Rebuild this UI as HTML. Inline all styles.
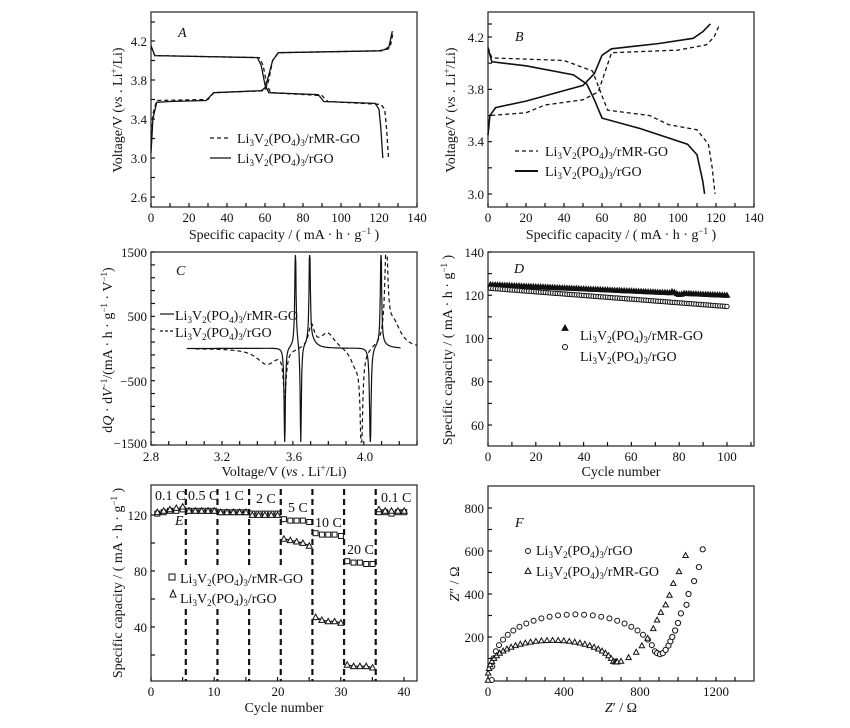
<!DOCTYPE html>
<html><head><meta charset="utf-8"><style>
body{margin:0;background:#fff}
svg{display:block;font-family:"Liberation Serif",serif;}
text{fill:#111}
.t{font-size:13px}
.l{font-size:14px}
</style></head><body>
<svg id="s" width="850" height="728" viewBox="0 0 850 728" xmlns="http://www.w3.org/2000/svg">
<g fill="none" stroke="#222" stroke-width="1.2">
<rect x="151" y="12" width="266" height="195"/>
<rect x="488" y="12" width="266" height="195"/>
<rect x="151" y="252" width="266" height="193"/>
<rect x="488" y="252" width="266" height="194"/>
<rect x="151" y="485" width="266" height="196"/>
<rect x="488" y="486" width="266" height="195"/>
</g>
<g id="g"></g>
<rect x="166" y="565" width="136" height="42" fill="#fff"/>
<!-- A -->
<g class="t" text-anchor="end">
<text x="147" y="46">4.2</text><text x="147" y="85">3.8</text><text x="147" y="124">3.4</text><text x="147" y="163">3.0</text><text x="147" y="202">2.6</text>
</g>
<g class="t" text-anchor="middle">
<text x="151" y="222">0</text><text x="189" y="222">20</text><text x="227" y="222">40</text><text x="265" y="222">60</text><text x="303" y="222">80</text><text x="341" y="222">100</text><text x="379" y="222">120</text><text x="417" y="222">140</text>
</g>
<text class="l" x="284" y="239" text-anchor="middle">Specific capacity / ( mA · h · g<tspan dy="-5" font-size="9">−1</tspan><tspan dy="5"> )</tspan></text>
<text class="l" transform="translate(122,110) rotate(-90)" text-anchor="middle">Voltage/V (<tspan font-style="italic">vs</tspan> . Li<tspan dy="-5" font-size="9">+</tspan><tspan dy="5">/Li)</tspan></text>
<text x="178" y="37" class="l" font-style="italic">A</text>
<text class="l" x="237" y="143">Li<tspan font-size="9" dy="3">3</tspan><tspan dy="-3">V</tspan><tspan font-size="9" dy="3">2</tspan><tspan dy="-3">(PO</tspan><tspan font-size="9" dy="3">4</tspan><tspan dy="-3">)</tspan><tspan font-size="9" dy="3">3</tspan><tspan dy="-3">/rMR-GO</tspan></text>
<text class="l" x="237" y="163">Li<tspan font-size="9" dy="3">3</tspan><tspan dy="-3">V</tspan><tspan font-size="9" dy="3">2</tspan><tspan dy="-3">(PO</tspan><tspan font-size="9" dy="3">4</tspan><tspan dy="-3">)</tspan><tspan font-size="9" dy="3">3</tspan><tspan dy="-3">/rGO</tspan></text>
<!-- B -->
<g class="t" text-anchor="end">
<text x="484" y="42">4.2</text><text x="484" y="94">3.8</text><text x="484" y="146">3.4</text><text x="484" y="199">3.0</text>
</g>
<g class="t" text-anchor="middle">
<text x="488" y="222">0</text><text x="526" y="222">20</text><text x="564" y="222">40</text><text x="602" y="222">60</text><text x="640" y="222">80</text><text x="678" y="222">100</text><text x="716" y="222">120</text><text x="754" y="222">140</text>
</g>
<text class="l" x="621" y="239" text-anchor="middle">Specific capacity / ( mA · h · g<tspan dy="-5" font-size="9">−1</tspan><tspan dy="5"> )</tspan></text>
<text class="l" transform="translate(455,110) rotate(-90)" text-anchor="middle">Voltage/V (<tspan font-style="italic">vs</tspan> . Li<tspan dy="-5" font-size="9">+</tspan><tspan dy="5">/Li)</tspan></text>
<text x="515" y="41" class="l" font-style="italic">B</text>
<text class="l" x="545" y="156">Li<tspan font-size="9" dy="3">3</tspan><tspan dy="-3">V</tspan><tspan font-size="9" dy="3">2</tspan><tspan dy="-3">(PO</tspan><tspan font-size="9" dy="3">4</tspan><tspan dy="-3">)</tspan><tspan font-size="9" dy="3">3</tspan><tspan dy="-3">/rMR-GO</tspan></text>
<text class="l" x="545" y="176">Li<tspan font-size="9" dy="3">3</tspan><tspan dy="-3">V</tspan><tspan font-size="9" dy="3">2</tspan><tspan dy="-3">(PO</tspan><tspan font-size="9" dy="3">4</tspan><tspan dy="-3">)</tspan><tspan font-size="9" dy="3">3</tspan><tspan dy="-3">/rGO</tspan></text>
<!-- C -->
<g class="t" text-anchor="end">
<text x="147" y="257">1500</text><text x="147" y="321">500</text><text x="147" y="386">−500</text><text x="147" y="448">−1500</text>
</g>
<g class="t" text-anchor="middle">
<text x="151" y="461">2.8</text><text x="222" y="461">3.2</text><text x="294" y="461">3.6</text><text x="365" y="461">4.0</text>
</g>
<text class="l" x="284" y="476" text-anchor="middle">Voltage/V (<tspan font-style="italic">vs</tspan> . Li<tspan dy="-5" font-size="9">+</tspan><tspan dy="5">/Li)</tspan></text>
<text class="l" transform="translate(112,350) rotate(-90)" text-anchor="middle">d<tspan font-style="italic">Q</tspan> · d<tspan font-style="italic">V</tspan><tspan dy="-5" font-size="9">−1</tspan><tspan dy="5">/(mA · h · g</tspan><tspan dy="-5" font-size="9">−1</tspan><tspan dy="5"> · V</tspan><tspan dy="-5" font-size="9">−1</tspan><tspan dy="5">)</tspan></text>
<text x="176" y="275" class="l" font-style="italic">C</text>
<text class="l" x="175" y="320">Li<tspan font-size="9" dy="3">3</tspan><tspan dy="-3">V</tspan><tspan font-size="9" dy="3">2</tspan><tspan dy="-3">(PO</tspan><tspan font-size="9" dy="3">4</tspan><tspan dy="-3">)</tspan><tspan font-size="9" dy="3">3</tspan><tspan dy="-3">/rMR-GO</tspan></text>
<text class="l" x="175" y="337">Li<tspan font-size="9" dy="3">3</tspan><tspan dy="-3">V</tspan><tspan font-size="9" dy="3">2</tspan><tspan dy="-3">(PO</tspan><tspan font-size="9" dy="3">4</tspan><tspan dy="-3">)</tspan><tspan font-size="9" dy="3">3</tspan><tspan dy="-3">/rGO</tspan></text>
<!-- D -->
<g class="t" text-anchor="end">
<text x="484" y="257">140</text><text x="484" y="300">120</text><text x="484" y="343">100</text><text x="484" y="386">80</text><text x="484" y="430">60</text>
</g>
<g class="t" text-anchor="middle">
<text x="488" y="461">0</text><text x="536" y="461">20</text><text x="584" y="461">40</text><text x="631" y="461">60</text><text x="679" y="461">80</text><text x="727" y="461">100</text>
</g>
<text class="l" x="621" y="476" text-anchor="middle">Cycle number</text>
<text class="l" transform="translate(452,350) rotate(-90)" text-anchor="middle">Specific capacity / ( mA · h · g<tspan dy="-5" font-size="9">−1</tspan><tspan dy="5"> )</tspan></text>
<text x="514" y="273" class="l" font-style="italic">D</text>
<text class="l" x="580" y="340">Li<tspan font-size="9" dy="3">3</tspan><tspan dy="-3">V</tspan><tspan font-size="9" dy="3">2</tspan><tspan dy="-3">(PO</tspan><tspan font-size="9" dy="3">4</tspan><tspan dy="-3">)</tspan><tspan font-size="9" dy="3">3</tspan><tspan dy="-3">/rMR-GO</tspan></text>
<text class="l" x="580" y="361">Li<tspan font-size="9" dy="3">3</tspan><tspan dy="-3">V</tspan><tspan font-size="9" dy="3">2</tspan><tspan dy="-3">(PO</tspan><tspan font-size="9" dy="3">4</tspan><tspan dy="-3">)</tspan><tspan font-size="9" dy="3">3</tspan><tspan dy="-3">/rGO</tspan></text>
<!-- E -->
<g class="t" text-anchor="end">
<text x="147" y="520">120</text><text x="147" y="576">80</text><text x="147" y="632">40</text>
</g>
<g class="t" text-anchor="middle">
<text x="151" y="696">0</text><text x="214" y="696">10</text><text x="278" y="696">20</text><text x="341" y="696">30</text><text x="404" y="696">40</text>
</g>
<text class="l" x="284" y="712" text-anchor="middle">Cycle number</text>
<text class="l" transform="translate(122,583) rotate(-90)" text-anchor="middle">Specific capacity / ( mA · h · g<tspan dy="-5" font-size="9">−1</tspan><tspan dy="5"> )</tspan></text>
<text x="175" y="525" class="l" font-style="italic">E</text>
<g class="l">
<text x="155" y="500">0.1 C</text><text x="188" y="500">0.5 C</text><text x="224" y="500">1 C</text><text x="256" y="503">2 C</text><text x="288" y="512">5 C</text><text x="315" y="527">10 C</text><text x="347" y="554">20 C</text><text x="381" y="502">0.1 C</text>
</g>
<rect x="169" y="574" width="6" height="6" fill="#fff" stroke="#111"/>
<polygon points="173,590 170,597 176,597" fill="#fff" stroke="#111"/>
<text class="l" x="180" y="583">Li<tspan font-size="9" dy="3">3</tspan><tspan dy="-3">V</tspan><tspan font-size="9" dy="3">2</tspan><tspan dy="-3">(PO</tspan><tspan font-size="9" dy="3">4</tspan><tspan dy="-3">)</tspan><tspan font-size="9" dy="3">3</tspan><tspan dy="-3">/rMR-GO</tspan></text>
<text class="l" x="180" y="603">Li<tspan font-size="9" dy="3">3</tspan><tspan dy="-3">V</tspan><tspan font-size="9" dy="3">2</tspan><tspan dy="-3">(PO</tspan><tspan font-size="9" dy="3">4</tspan><tspan dy="-3">)</tspan><tspan font-size="9" dy="3">3</tspan><tspan dy="-3">/rGO</tspan></text>
<!-- F -->
<g class="t" text-anchor="end">
<text x="484" y="513">800</text><text x="484" y="556">600</text><text x="484" y="599">400</text><text x="484" y="642">200</text>
</g>
<g class="t" text-anchor="middle">
<text x="488" y="696">0</text><text x="564" y="696">400</text><text x="640" y="696">800</text><text x="716" y="696">1200</text>
</g>
<text class="l" x="621" y="712" text-anchor="middle"><tspan font-style="italic">Z</tspan>′ / Ω</text>
<text class="l" transform="translate(459,584) rotate(-90)" text-anchor="middle"><tspan font-style="italic">Z</tspan>″ / Ω</text>
<text x="515" y="527" class="l" font-style="italic">F</text>
<text class="l" x="536" y="555">Li<tspan font-size="9" dy="3">3</tspan><tspan dy="-3">V</tspan><tspan font-size="9" dy="3">2</tspan><tspan dy="-3">(PO</tspan><tspan font-size="9" dy="3">4</tspan><tspan dy="-3">)</tspan><tspan font-size="9" dy="3">3</tspan><tspan dy="-3">/rGO</tspan></text>
<text class="l" x="536" y="576">Li<tspan font-size="9" dy="3">3</tspan><tspan dy="-3">V</tspan><tspan font-size="9" dy="3">2</tspan><tspan dy="-3">(PO</tspan><tspan font-size="9" dy="3">4</tspan><tspan dy="-3">)</tspan><tspan font-size="9" dy="3">3</tspan><tspan dy="-3">/rMR-GO</tspan></text>
</svg>
<script>
var g=document.getElementById('g'),h='';
function pl(pts,fx,fy,dash,w){h+='<polyline fill="none" stroke="#111" stroke-width="'+(w||1.3)+'" '+(dash?'stroke-dasharray="4,3" ':'')+'points="'+pts.map(function(p){return fx(p[0]).toFixed(1)+','+fy(p[1]).toFixed(1)}).join(' ')+'"/>';}
function ln(x1,y1,x2,y2,d,w){h+='<line x1="'+x1+'" y1="'+y1+'" x2="'+x2+'" y2="'+y2+'" stroke="#111" stroke-width="'+(w||1.2)+'"'+(d?' stroke-dasharray="'+d+'"':'')+'/>';}
function sq(x,y,s){h+='<rect x="'+(x-s)+'" y="'+(y-s)+'" width="'+2*s+'" height="'+2*s+'" fill="#fff" stroke="#111" stroke-width="1"/>';}
function tri(x,y,s,f){x=+x;y=+y;h+='<polygon points="'+x.toFixed(1)+','+(y-s).toFixed(1)+' '+(x-s).toFixed(1)+','+(y+s*0.8).toFixed(1)+' '+(x+s).toFixed(1)+','+(y+s*0.8).toFixed(1)+'" fill="'+(f?'#111':'#fff')+'" stroke="#111" stroke-width="1"/>';}
function ci(x,y,r){h+='<circle cx="'+(+x).toFixed(1)+'" cy="'+(+y).toFixed(1)+'" r="'+r+'" fill="#fff" stroke="#111" stroke-width="1"/>';}
function ticks(x0,x1,y0,y1,xs,ys){xs.forEach(function(x){ln(x,y1,x,y1-4)});ys.forEach(function(y){ln(x0,y,x0+4,y)});}
var r=function(a,b,n){var o=[];for(var i=0;i<=n;i++)o.push(a+(b-a)*i/n);return o;};
ticks(151,417,12,207,r(151,417,14),r(41,197,8).concat([22]));
ticks(488,754,12,207,r(488,754,14),r(37,194,6).concat([24]));
ticks(151,417,252,445,r(151,417,15),r(252,445,15));
ticks(488,754,252,446,r(488,727,10).concat([751]),r(252,425,8));
ticks(151,417,485,681,r(151,404,8),r(515,655,5));
ticks(488,754,486,681,r(488,716,12).concat([735]),r(508,680,8));
var AX=function(c){return 151+c*1.9},AY=function(v){return 41+(4.2-v)*97.5};
pl([[0,3.05],[1,3.4],[3,3.57],[10,3.58],[29,3.59],[31,3.63],[33,3.67],[58,3.69],[60,3.72],[62,3.85],[64,4.0],[67,4.08],[120,4.1],[125,4.12],[127,4.3]],AX,AY,0);
pl([[0,4.15],[2,4.05],[56,4.03],[58,3.95],[60,3.75],[62,3.67],[88,3.65],[91,3.58],[118,3.56],[120,3.5],[121,3.3],[122,3.0]],AX,AY,0);
pl([[0,3.1],[1,3.45],[3,3.59],[30,3.6],[33,3.67],[60,3.69],[62,3.8],[64,4.0],[67,4.08],[122,4.1],[126,4.15],[127.5,4.3]],AX,AY,1);
pl([[0,4.15],[2,4.05],[57,4.03],[59,3.95],[61,3.75],[63,3.67],[90,3.64],[93,3.58],[121,3.55],[123,3.5],[124,3.3],[125,3.0]],AX,AY,1);
ln(210,138,231,138,'4,3',1.3);ln(210,158,231,158,'',1.3);
var BX=function(c){return 488+c*1.9},BY=function(v){return 37+(4.2-v)*130.75};
pl([[0,3.45],[1,3.6],[4,3.66],[20,3.71],[40,3.79],[50,3.83],[56,3.92],[60,4.06],[65,4.11],[90,4.15],[108,4.19],[113,4.24],[117,4.3]],BX,BY,0,1.6);
pl([[0,4.12],[2,4.01],[20,3.98],[45,3.91],[52,3.84],[56,3.72],[60,3.58],[80,3.5],[105,3.38],[110,3.3],[113,3.1],[114,3.0]],BX,BY,0,1.6);
pl([[0,3.45],[1,3.6],[20,3.62],[30,3.68],[50,3.72],[58,3.78],[62,3.95],[65,4.08],[100,4.1],[115,4.14],[119,4.2],[122,4.3]],BX,BY,1);
pl([[0,4.12],[2,4.04],[40,4.02],[55,3.94],[60,3.75],[63,3.64],[85,3.6],[95,3.53],[110,3.49],[116,3.38],[118,3.2],[119.5,3.0]],BX,BY,1);
ln(515,151,538,151,'4,3',1.3);ln(515,171,538,171,'',2);
var CX=function(v){return 151+(v-2.8)*178.3},CY=function(d){return 348.5-d*0.0645};
function curve(peaks,a,b){var o=[];for(var v=a;v<=b;v+=0.002){var s=0;peaks.forEach(function(p){var x=(v-p[0])/p[2];s+=p[1]/(1+x*x)});s=Math.max(-1450,Math.min(1450,s));o.push([v,s]);}return o;}
pl(curve([[3.61,1600,0.004],[3.69,1600,0.004],[4.09,1600,0.004],[3.55,-1600,0.004],[3.64,-1600,0.004],[4.03,-1600,0.005],[3.62,80,0.03],[3.7,120,0.03],[4.09,80,0.04]],3.0,4.2),CX,CY,0,1.2);
pl(curve([[3.7,350,0.02],[3.79,250,0.05],[4.12,1500,0.01],[4.16,400,0.05],[3.45,-250,0.07],[3.55,-700,0.01],[3.98,-1500,0.008],[3.95,-300,0.04]],3.05,4.29),CX,CY,1,1.2);
ln(160,314,174,314,'',1.2);ln(160,331,174,331,'3,2',1.2);
var DX=function(n){return 488+n*2.39},DY=function(c){return 252+(140-c)*2.1625};
for(var n=1;n<=100;n++){var c1=125-n*0.05+(n>76&&n<82?0.6*Math.sin(n):0);tri(DX(n),DY(c1),2.6,1);}
for(var n=1;n<=100;n++){var c2=123.3-n*0.085;ci(DX(n),DY(c2),2.2);}
tri(565,328,3,1);ci(565,347,2.5);
var EX=function(n){return 151+n*6.33},EY=function(c){return 515+(120-c)*1.4};
[5.5,10.5,15.5,20.5,25.5,30.5,35.5].forEach(function(c){ln(EX(c),489,EX(c),681,'6,4',2.2)});
var sqd=[121,122,123,123,124,123,123,123,123,123,122,122,122,122,122,121,121,121,121,121,117,116,116,116,115,107,106,106,106,105,87,86,86,85,85,122,122,121,122,122];
var trd=[122,123,124,125,126,123,123,123,123,123,122,122,122,122,122,120,120,120,120,120,103,102,101,100,98,47,45,44,44,43,13,12,12,12,11,124,123,123,123,123];
pl(trd.slice(20,25).map(function(c,i){return[21+i,c]}),EX,EY,0,1.2);pl(trd.slice(25,30).map(function(c,i){return[26+i,c]}),EX,EY,0,1.2);pl(trd.slice(30,35).map(function(c,i){return[31+i,c]}),EX,EY,0,1.2);
pl(sqd.slice(0,20).map(function(c,i){return[1+i,c]}),EX,EY,0,1.2);
sqd.forEach(function(c,i){sq(EX(i+1),EY(c),2.5)});
trd.forEach(function(c,i){tri(EX(i+1),EY(c),3,0)});
var FX=function(z){return 488+z*0.19},FY=function(v){return 680-v*0.215};
for(var i=0;i<=30;i++){var t=Math.PI*(1-i/30);var x=460+440*Math.cos(t),y=305*Math.pow(Math.max(Math.sin(t),0),0.7);if(x<880)ci(FX(x),FY(y),2.5);}
[[890,125],[905,120],[920,125],[935,140],[950,160],[960,180],[970,200],[985,230],[1000,265],[1015,310],[1045,350],[1055,400],[1085,460],[1110,525],[1130,608]].forEach(function(p){ci(FX(p[0]),FY(p[1]),2.6)});
for(var i=0;i<=36;i++){var t=Math.PI*(1-i/36);var x=340+340*Math.cos(t),y=185*Math.pow(Math.max(Math.sin(t),0),0.7);if(x>660)y=Math.max(y,85);tri(FX(x),FY(y),2.7,0);}
[[700,88],[740,105],[780,130],[810,160],[840,195],[870,240],[890,280],[910,315],[935,350],[955,395],[975,450],[1005,505],[1040,580]].forEach(function(p){tri(FX(p[0]),FY(p[1]),2.7,0)});
ci(528,551,2.5);tri(528,571,3,0);
g.innerHTML=h;
</script>
</body></html>
